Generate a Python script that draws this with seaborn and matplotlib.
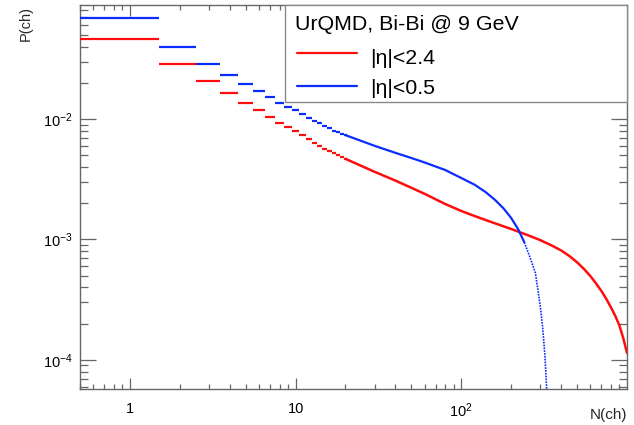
import numpy as np
import pandas as pd
import matplotlib
matplotlib.use("Agg")
import matplotlib.pyplot as plt
import seaborn as sns
from matplotlib.ticker import FixedLocator, FixedFormatter, LogLocator, NullFormatter
from matplotlib.patches import Rectangle
from matplotlib.lines import Line2D

sns.set_theme(style="white")
plt.rcParams["font.family"] = ["Liberation Sans", "DejaVu Sans"]
plt.rcParams["mathtext.fontset"] = "custom"
plt.rcParams["mathtext.rm"] = "Liberation Sans"
plt.rcParams["mathtext.it"] = "Liberation Sans:italic"
plt.rcParams["mathtext.default"] = "regular"

# ---------------- data ----------------
step_n = list(range(1, 21))
red_step_p = [0.0461, 0.0286, 0.0208, 0.01634, 0.01365, 0.01181, 0.01045, 0.00935,
              0.00853, 0.00790, 0.00732, 0.00679, 0.00628, 0.00597, 0.00569, 0.00543,
              0.00520, 0.00501, 0.00483, 0.00467]
blue_step_p = [0.0693, 0.0396, 0.02876, 0.02306, 0.01941, 0.01698, 0.01522, 0.01365,
               0.01270, 0.01183, 0.01105, 0.01029, 0.00968, 0.00921, 0.00875, 0.00837,
               0.00800, 0.00776, 0.00754, 0.00735]

red_curve_n = [20, 25, 30, 40, 50, 60, 80, 100, 120, 150, 200, 250, 300, 350, 400,
               450, 500, 550, 600, 650, 700, 750, 800, 850, 900, 950, 1000]
red_curve_p = [0.004674, 0.004074, 0.003646, 0.003083, 0.002685, 0.002395, 0.001970,
               0.001724, 0.001567, 0.001403, 0.001222, 0.001090, 0.000987, 0.000893,
               0.000812, 0.000727, 0.000646, 0.000569, 0.000498, 0.000432, 0.000374,
               0.000321, 0.000273, 0.000232, 0.000193, 0.000151, 0.0001143]

blue_curve_n = [20, 25, 30, 40, 50, 60, 80, 100, 120, 140, 160, 180, 200, 220, 240]
blue_curve_p = [0.007352, 0.006567, 0.005991, 0.005242, 0.004746, 0.004363, 0.003774,
                0.003238, 0.002855, 0.002479, 0.002127, 0.001808, 0.001508, 0.001222,
                0.000948]

blue_tail_n = [240, 260, 280, 290, 300, 310, 320, 325, 330]
blue_tail_p = [0.000948, 0.000709, 0.000527, 0.000381, 0.000275, 0.000184, 0.000106,
               0.0000709, 0.0000466]

legend_header = "UrQMD, Bi-Bi @ 9 GeV"
label_red = "|η|<2.4"
label_blue = "|η|<0.5"

RED = "#ff0d0d"
BLUE = "#0a2cff"

# ---------------- figure ----------------
W, H = 634, 425
fig = plt.figure(figsize=(W / 100, H / 100), dpi=100)
fig.patch.set_facecolor("white")
L, R, T, B = 80, 627, 5.3, 389.3
ax = fig.add_axes([L / W, 1 - B / H, (R - L) / W, (B - T) / H])
ax.set_facecolor("white")
ax.set_xscale("log")
ax.set_yscale("log")

# step part (per-bin horizontal segments)
sn = np.array(step_n, dtype=float)
ax.hlines(red_step_p, sn - 0.5, sn + 0.5, color=RED, lw=1.6, zorder=3)
ax.hlines(blue_step_p, sn - 0.5, sn + 0.5, color=BLUE, lw=1.6, zorder=3)

# continuous part
df_r = pd.DataFrame({"N": red_curve_n, "P": red_curve_p})
df_b = pd.DataFrame({"N": blue_curve_n, "P": blue_curve_p})
df_bt = pd.DataFrame({"N": blue_tail_n, "P": blue_tail_p})
sns.lineplot(data=df_r, x="N", y="P", ax=ax, color=RED, lw=1.8, estimator=None, sort=False, zorder=3)
sns.lineplot(data=df_b, x="N", y="P", ax=ax, color=BLUE, lw=1.6, estimator=None, sort=False, zorder=3)
sns.lineplot(data=df_bt, x="N", y="P", ax=ax, color=BLUE, lw=1.2, ls=(0, (1, 0.7)),
             estimator=None, sort=False, zorder=3)

ax.set_xlim(0.5, 1000)
ax.set_ylim(5.7e-5, 0.088)

# ticks
ax.xaxis.set_major_locator(FixedLocator([1, 10, 100]))
ax.xaxis.set_major_formatter(FixedFormatter(["1", "10", r"$10^{2}$"]))
ax.xaxis.set_minor_locator(LogLocator(base=10, subs=np.arange(2, 10) * 1.0, numticks=100))
ax.xaxis.set_minor_formatter(NullFormatter())
ax.yaxis.set_major_locator(FixedLocator([1e-4, 1e-3, 1e-2]))
ax.yaxis.set_major_formatter(FixedFormatter([r"$10^{-4}$", r"$10^{-3}$", r"$10^{-2}$"]))
ax.yaxis.set_minor_locator(LogLocator(base=10, subs=np.arange(2, 10) * 1.0, numticks=100))
ax.yaxis.set_minor_formatter(NullFormatter())

tc = "#666666"
ax.tick_params(which="both", direction="in", top=True, right=True, bottom=True, left=True,
               color=tc, width=0.9, labelsize=10.5, labelcolor="black")
ax.xaxis.set_tick_params(which="major", length=8, pad=9)
ax.xaxis.set_tick_params(which="minor", length=3.8)
ax.yaxis.set_tick_params(which="major", length=11.5, pad=5)
ax.yaxis.set_tick_params(which="minor", length=5.8)
for s in ax.spines.values():
    s.set_color(tc)
    s.set_linewidth(1.0)

ax.set_xlabel("N(ch)", fontsize=11, loc="right")
ax.xaxis.set_label_coords(1.0, -(407.5 - B) / (B - T))
ax.set_ylabel("P(ch)", fontsize=10.5, loc="top")
ax.yaxis.set_label_coords(-(80 - 33) / (R - L), 0.997)

# legend box (ROOT style)
def fx(px):
    return px / W

def fy(py):
    return 1 - py / H

lb_l, lb_t, lb_r, lb_b = 285, 5.3, 626.5, 102
ax.add_patch(Rectangle((fx(lb_l), fy(lb_b)), fx(lb_r) - fx(lb_l), fy(lb_t) - fy(lb_b),
                       transform=fig.transFigure, facecolor="white", edgecolor="#8a8a8a",
                       lw=1.0, zorder=10, clip_on=False))
ax.text(fx(295), fy(29.5), legend_header, transform=fig.transFigure, fontsize=15.4,
        ha="left", va="baseline", zorder=11, color="black")
ax.add_line(Line2D([fx(297), fx(357)], [fy(53.3), fy(53.3)], transform=fig.transFigure,
                   color=RED, lw=1.6, zorder=11, clip_on=False))
ax.add_line(Line2D([fx(297), fx(357)], [fy(85.7), fy(85.7)], transform=fig.transFigure,
                   color=BLUE, lw=1.6, zorder=11, clip_on=False))
ax.text(fx(370), fy(63.5), label_red, transform=fig.transFigure, fontsize=15.4,
        ha="left", va="baseline", zorder=11, color="black")
ax.text(fx(370), fy(94.5), label_blue, transform=fig.transFigure, fontsize=15.4,
        ha="left", va="baseline", zorder=11, color="black")

fig.savefig("out.png", dpi=100, facecolor="white")
